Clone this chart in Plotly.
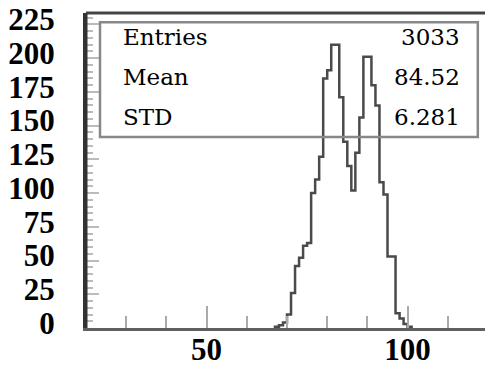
import plotly.graph_objects as go

# Histogram data (1-unit bins, left edges)
bin_left = list(range(67, 101))
counts = [1, 2, 4, 10, 26, 46, 52, 61, 63, 100, 110, 127, 185, 191, 210, 210,
          171, 138, 120, 102, 130, 156, 201, 201, 180, 165, 108, 99, 53, 53,
          11, 7, 3, 1]

stat_names = ["Entries", "Mean", "STD"]
stat_values = ["3033", "84.52", "6.281"]

x_range = [20, 119.25]
y_range = [0, 233.5]

# step outline
xs = [bin_left[0]]
ys = [0]
for e, c in zip(bin_left, counts):
    xs += [e, e + 1]
    ys += [c, c]
xs.append(bin_left[-1] + 1)
ys.append(0)

fig = go.Figure()
fig.add_trace(go.Scatter(x=xs, y=ys, mode="lines",
                         line=dict(color="#4a4a4a", width=2.5),
                         hoverinfo="skip", showlegend=False))

tickfont = dict(family="Liberation Serif", size=31, color="black", weight="bold")

fig.update_layout(
    template="none",
    width=485, height=367,
    margin=dict(l=86, r=0, t=13, b=39, autoexpand=False),
    paper_bgcolor="white", plot_bgcolor="white",
    showlegend=False,
    xaxis=dict(range=x_range, showgrid=False, zeroline=False, automargin=False,
               showline=True, linecolor="#606060", linewidth=3,
               ticks="inside", tick0=0, dtick=50, ticklen=22, tickwidth=2,
               tickcolor="#aaaaaa", tickfont=tickfont, ticklabelstandoff=-8,
               minor=dict(ticks="inside", dtick=10, tick0=0, ticklen=12,
                          tickwidth=2, tickcolor="#aaaaaa")),
    yaxis=dict(range=y_range, showgrid=False, zeroline=False, automargin=False,
               showline=True, linecolor="#333333", linewidth=3,
               ticks="inside", tick0=0, dtick=25, ticklen=13, tickwidth=2,
               tickcolor="#bbbbbb", tickfont=tickfont, ticklabelstandoff=22,
               ticklabelshift=-5,
               minor=dict(ticks="inside", dtick=5, tick0=0, ticklen=7,
                          tickwidth=2, tickcolor="#bbbbbb")),
)

# top frame line
fig.add_shape(type="line", xref="paper", yref="paper", x0=0, x1=1, y0=1, y1=1,
              line=dict(color="#444444", width=3))

# left frame line drawn over ticks
fig.add_shape(type="line", xref="paper", yref="paper", x0=0, x1=0, y0=0, y1=1,
              line=dict(color="#333333", width=3))

# stats box
fig.add_shape(type="rect", xref="paper", yref="paper",
              x0=0.0351, x1=0.982, y0=0.606, y1=0.971,
              line=dict(color="#888888", width=2.5), fillcolor="rgba(0,0,0,0)")

row_y = [0.924, 0.797, 0.670]
for name, val, yy in zip(stat_names, stat_values, row_y):
    fig.add_annotation(x=0.0877, y=yy, xref="paper", yref="paper", text=name,
                       showarrow=False, xanchor="left", yanchor="middle",
                       font=dict(family="DejaVu Serif", size=23, color="black"))
    fig.add_annotation(x=0.942, y=yy, xref="paper", yref="paper", text=val,
                       showarrow=False, xanchor="right", yanchor="middle",
                       font=dict(family="DejaVu Serif", size=23, color="black"))

fig.write_html("out.html")
